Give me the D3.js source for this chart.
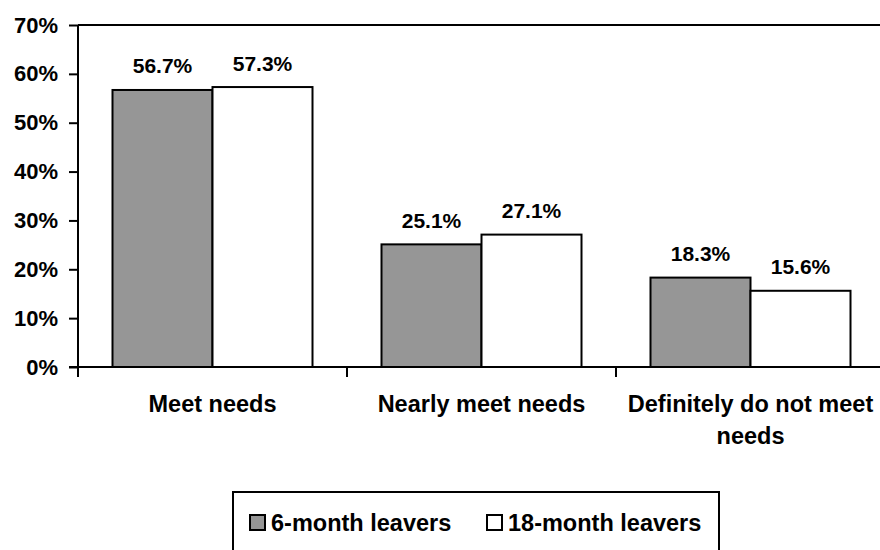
<!DOCTYPE html>
<html>
<head>
<meta charset="utf-8">
<script src="https://cdn.jsdelivr.net/npm/d3@7"></script>
<style>
  html, body { margin: 0; padding: 0; background: #fff; }
  svg { display: block; font-family: "Liberation Sans", Arial, sans-serif; font-weight: bold; }
</style>
</head>
<body>
<svg id="chart" width="880" height="550"></svg>
<script>
const categories = ["Meet needs", "Nearly meet needs", "Definitely do not meet needs"];
const categoryLines = [["Meet needs"], ["Nearly meet needs"], ["Definitely do not meet", "needs"]];
const seriesNames = ["6-month leavers", "18-month leavers"];
const sixMonth = [0.567, 0.251, 0.183];
const eighteenMonth = [0.573, 0.271, 0.156];
const seriesColors = ["#969696", "#ffffff"];
const yTicks = [0, 0.1, 0.2, 0.3, 0.4, 0.5, 0.6, 0.7];

const svg = d3.select("#chart");
const plot = { left: 78, right: 885, top: 25, bottom: 367 };

const x = d3.scaleBand().domain(categories).range([plot.left, plot.right]).paddingInner(0).paddingOuter(0);
const xs = d3.scaleBand().domain(seriesNames).range([0, x.bandwidth()]).paddingInner(0).paddingOuter(0.345);
const y = d3.scaleLinear().domain([0, 0.7]).range([plot.bottom, plot.top]);
const fmt = d3.format(".1%");
const fmtTick = d3.format(".0%");

// plot top border
svg.append("line")
  .attr("x1", plot.left).attr("x2", plot.right)
  .attr("y1", y(0.7)).attr("y2", y(0.7))
  .attr("stroke", "#000").attr("stroke-width", 2);

// data
const data = categories.map((c, i) => ({ cat: c, vals: [sixMonth[i], eighteenMonth[i]] }));
const groups = svg.selectAll("g.grp").data(data).enter().append("g")
  .attr("class", "grp")
  .attr("transform", d => `translate(${x(d.cat)},0)`);

groups.selectAll("rect").data(d => d.vals.map((v, j) => ({ v, s: seriesNames[j], j })))
  .enter().append("rect")
  .attr("x", d => xs(d.s))
  .attr("y", d => y(d.v))
  .attr("width", xs.bandwidth())
  .attr("height", d => y(0) - y(d.v))
  .attr("fill", d => seriesColors[d.j])
  .attr("stroke", "#000").attr("stroke-width", 2);

groups.selectAll("text.lbl").data(d => d.vals.map((v, j) => ({ v, s: seriesNames[j] })))
  .enter().append("text")
  .attr("class", "lbl")
  .attr("x", d => xs(d.s) + xs.bandwidth() / 2)
  .attr("y", d => y(d.v) - 16.5)
  .attr("text-anchor", "middle")
  .attr("font-size", "21px")
  .text(d => fmt(d.v));

// y axis
const yAxis = d3.axisLeft(y).tickValues(yTicks).tickFormat(fmtTick).tickSize(9).tickPadding(11);
const ya = svg.append("g").attr("transform", `translate(${plot.left},0)`).call(yAxis);
ya.select(".domain").attr("stroke", "#000").attr("stroke-width", 2).attr("d", `M0,${plot.top}V${plot.bottom}`);
ya.selectAll(".tick line").attr("stroke", "#000").attr("stroke-width", 2);
ya.selectAll(".tick text").attr("font-size", "22px").attr("font-family", "'Liberation Sans', Arial, sans-serif")
  .attr("font-weight", "bold").attr("fill", "#000");

// x axis
const bounds = categories.map(c => x(c)).concat([plot.right]);
svg.append("line")
  .attr("x1", plot.left - 9).attr("x2", plot.right)
  .attr("y1", y(0)).attr("y2", y(0))
  .attr("stroke", "#000").attr("stroke-width", 2);
svg.selectAll("line.xt").data(bounds).enter().append("line")
  .attr("class", "xt")
  .attr("x1", d => d).attr("x2", d => d)
  .attr("y1", y(0)).attr("y2", y(0) + 10)
  .attr("stroke", "#000").attr("stroke-width", 2);

const xl = svg.selectAll("text.cat").data(categories).enter().append("text")
  .attr("class", "cat")
  .attr("x", d => x(d) + x.bandwidth() / 2)
  .attr("y", 412)
  .attr("text-anchor", "middle")
  .attr("font-size", "23.5px");
xl.each(function(d, i) {
  const t = d3.select(this);
  categoryLines[i].forEach((ln, k) => {
    t.append("tspan").attr("x", x(d) + x.bandwidth() / 2).attr("dy", k === 0 ? 0 : 32).text(ln);
  });
});

// legend
const lg = svg.append("g");
lg.append("rect").attr("x", 233).attr("y", 492).attr("width", 486).attr("height", 80)
  .attr("fill", "#fff").attr("stroke", "#000").attr("stroke-width", 2);
const legendX = [250, 487];
seriesNames.forEach((s, i) => {
  lg.append("rect").attr("x", legendX[i]).attr("y", 515).attr("width", 15).attr("height", 15)
    .attr("fill", seriesColors[i]).attr("stroke", "#000").attr("stroke-width", 2);
  lg.append("text").attr("x", legendX[i] + 21).attr("y", 531)
    .attr("font-size", "23.5px").text(s);
});
</script>
</body>
</html>
